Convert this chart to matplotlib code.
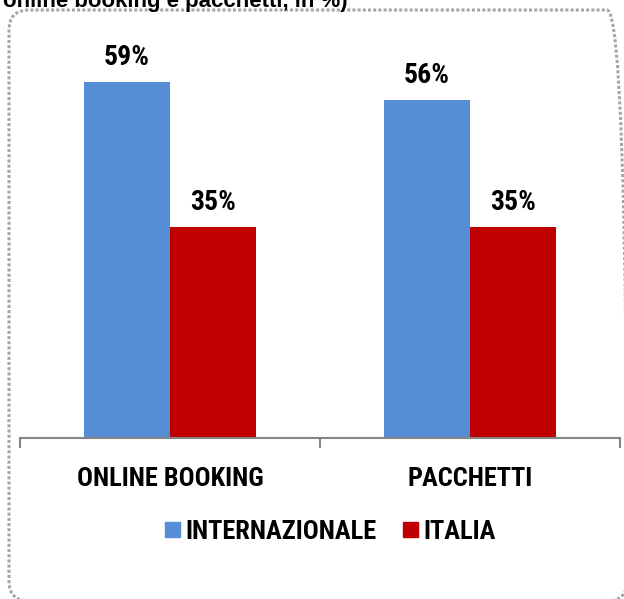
import matplotlib
matplotlib.use("Agg")
import numpy as np
import matplotlib.pyplot as plt
from matplotlib.patches import FancyBboxPatch, Patch

# data
categories = ["ONLINE BOOKING", "PACCHETTI"]
series_names = ["INTERNAZIONALE", "ITALIA"]
internazionale = [59, 56]
italia = [35, 35]
colors = ["#558ED5", "#C00000"]

plt.rcParams["font.family"] = ["Roboto Condensed", "Liberation Sans", "DejaVu Sans"]

fig = plt.figure(figsize=(6.24, 5.99), dpi=100)
ax = fig.add_axes([20 / 624, 161.5 / 599, 600 / 624, 422 / 599])

x = np.arange(len(categories)) + 0.5
w = 0.288
b1 = ax.bar(x - w / 2, internazionale, w, color=colors[0])
b2 = ax.bar(x + w / 2, italia, w, color=colors[1])

for bars, vals in [(b1, internazionale), (b2, italia)]:
    for bar, v in zip(bars, vals):
        ax.annotate(f"{v}%", (bar.get_x() + bar.get_width() / 2, v),
                    xytext=(0, 12), textcoords="offset points",
                    ha="center", va="baseline", fontsize=20, fontweight="bold")

ax.set_xlim(0, 2)
ax.set_ylim(0, 70)
ax.set_yticks([])
for s in ["top", "right", "left"]:
    ax.spines[s].set_visible(False)
ax.spines["bottom"].set_color("#868686")
ax.spines["bottom"].set_linewidth(1.5)

ax.set_xticks(x)
ax.set_xticklabels(categories, fontsize=19, fontweight="bold")
ax.tick_params(axis="x", which="major", length=0, pad=21)
ax.set_xticks([0, 1, 2], minor=True)
ax.tick_params(axis="x", which="minor", length=7, width=1.5, color="#868686", direction="out")

handles = [Patch(color=c) for c in colors]
fig.legend(handles, series_names, loc="center", bbox_to_anchor=(330 / 624, 1 - 532 / 599),
           ncol=2, frameon=False, prop={"weight": "bold", "size": 19},
           handlelength=0.57, handleheight=0.53, handletextpad=0.2,
           columnspacing=1.0, borderpad=0)

# dotted rounded frame around the chart
frame = FancyBboxPatch((9, -2), 618, 591, boxstyle="round,pad=0,rounding_size=20",
                       transform=None, fill=False, edgecolor="#A6A6A6",
                       linewidth=2.2, linestyle=(0, (1.0, 0.7)))
fig.patches.append(frame)

# title line cut off at top
fig.text(3 / 624, 1 - 7 / 599, "online booking e pacchetti, in %)", fontsize=16,
         fontweight="bold", va="baseline", family=["Liberation Sans", "DejaVu Sans"])

fig.savefig("out.png", dpi=100)
